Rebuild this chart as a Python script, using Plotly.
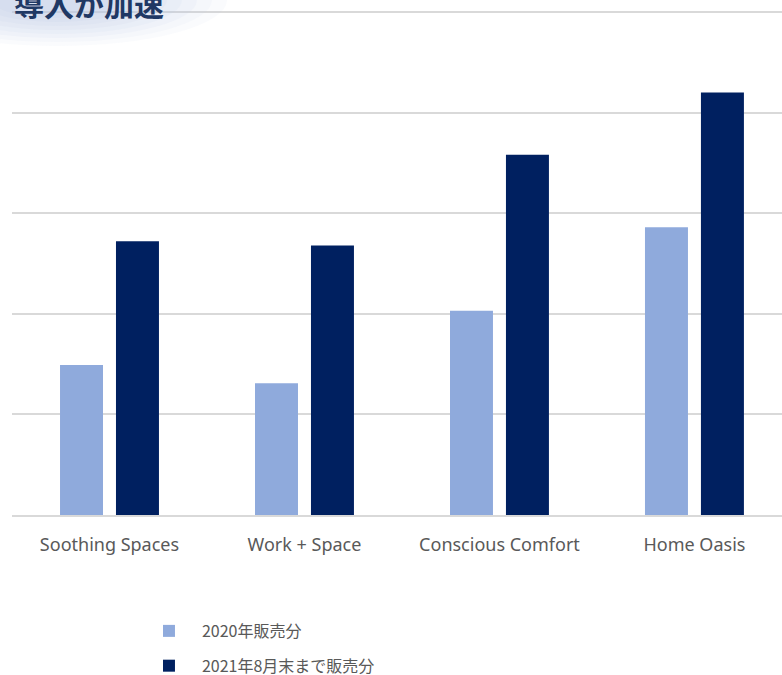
import plotly.graph_objects as go

categories = ["Soothing Spaces", "Work + Space", "Conscious Comfort", "Home Oasis"]
series_names = ["2020年販売分", "2021年8月末まで販売分"]
values_2020 = [1.49, 1.31, 2.03, 2.86]
values_2021 = [2.72, 2.68, 3.58, 4.20]
title_text = "導入が加速"

colors = ["#8FAADC", "#002060"]

fig = go.Figure()
fig.add_trace(go.Bar(x=categories, y=values_2020, name=series_names[0],
                     marker=dict(color=colors[0], line=dict(width=0)), legendgroup="a"))
fig.add_trace(go.Bar(x=categories, y=values_2021, name=series_names[1],
                     marker=dict(color=colors[1], line=dict(width=0)), legendgroup="b"))

# soft glow behind the title (pixel offsets relative to the top-left of the plot area)
glow = [(170, 46, 0.07), (155, 42, 0.08), (140, 38, 0.09), (125, 34, 0.10),
        (110, 30, 0.11), (95, 26, 0.12), (80, 22, 0.13), (65, 18, 0.14)]
for rx, ry, op in glow:
    cx, cy = 45, 10
    fig.add_shape(type="circle", xref="paper", yref="paper",
                  xsizemode="pixel", ysizemode="pixel", xanchor=0, yanchor=1,
                  x0=cx - rx, x1=cx + rx, y0=cy - ry, y1=cy + ry,
                  fillcolor="#bccbe8", opacity=op, line=dict(width=0), layer="above")

fig.add_annotation(text="<b>" + title_text + "</b>", xref="paper", yref="paper",
                   x=0.0, y=1.0, xanchor="left", yanchor="middle", yshift=7, xshift=0,
                   showarrow=False,
                   font=dict(family="Noto Sans CJK JP", size=30, color="#1F3864"))

fig.update_layout(
    width=782, height=675,
    margin=dict(l=12, r=0, t=10, b=160, autoexpand=False),
    paper_bgcolor="white", plot_bgcolor="white",
    barmode="group", bargap=0.426, bargroupgap=0.232,
    showlegend=True,
    legend=dict(orientation="v", x=0.161, y=-0.196, xanchor="left", yanchor="top",
                font=dict(family="Noto Sans CJK JP", size=16, color="#595959"),
                tracegroupgap=11, itemwidth=56, bgcolor="rgba(0,0,0,0)"),
    font=dict(family="Noto Sans", color="#595959"),
    xaxis=dict(range=[-0.5, 3.449], showgrid=False, showline=True,
               linecolor="#d9d9d9", linewidth=2, ticks="", ticklabelstandoff=12,
               tickfont=dict(family="Noto Sans", size=18, color="#595959")),
    yaxis=dict(range=[0, 5.02], dtick=1, showticklabels=False, showgrid=True,
               gridcolor="#d9d9d9", gridwidth=1.5, zeroline=False, ticks=""),
)

fig.write_html("out.html", config={"displayModeBar": False},
               post_script="document.body.style.margin='0';")
